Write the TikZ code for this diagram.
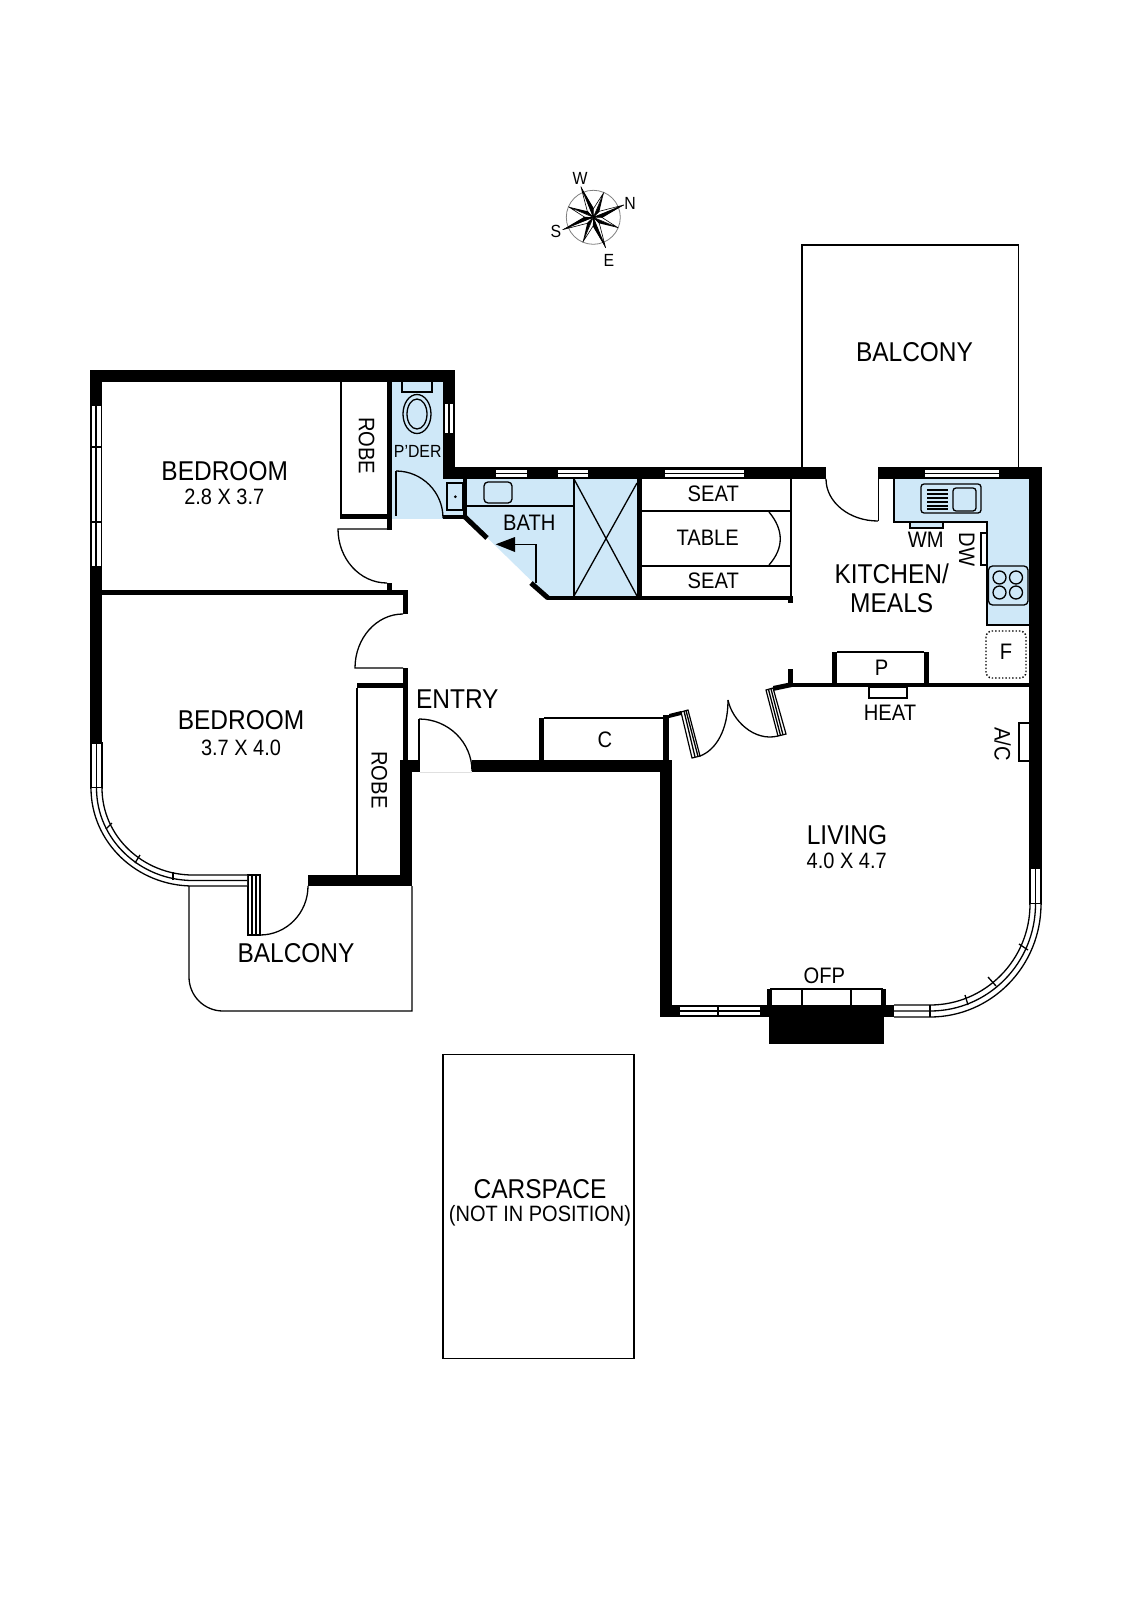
\documentclass[tikz,border=0pt]{standalone}
\usepackage{fontspec}
\setmainfont[FakeStretch=.9]{Liberation Sans}
\definecolor{wetblue}{HTML}{CFE8F8}
\tikzset{
  x=.5pt,y=-.5pt,
  thin line/.style={line width=.65pt},
  wall/.style={fill=black,draw=none},
  wet/.style={fill=wetblue,draw=none},
  winbox/.style={fill=white,draw=black,line width=.6pt},
  room/.style={font=\fontsize{13.6}{13.6}\selectfont,inner sep=0pt},
  size/.style={font=\fontsize{11.1}{11.1}\selectfont,inner sep=0pt},
  small/.style={font=\fontsize{11.2}{11.2}\selectfont,inner sep=0pt},
  tiny/.style={font=\fontsize{8.8}{8.8}\selectfont,inner sep=0pt}
}
\begin{document}
\begin{tikzpicture}
  \useasboundingbox (0,0) rectangle (1132,1600);
  \fill[white] (0,0) rectangle (1132,1600);
  % wet areas
  \fill[wet] (392,382) rectangle (443,519);
  \fill[wet] (443,479) rectangle (466,516);
  \fill[wet] (466,479) -- (637,479) -- (637,596) -- (547,596) -- (465,516) -- cycle;
  \fill[wet] (894,479) -- (1029,479) -- (1029,625) -- (987,625) -- (987,522) -- (894,522) -- cycle;
  % outer walls
  \fill[wall] (90,370) rectangle (455,382);
  \fill[wall] (90,370) rectangle (102,743);
  \fill[wall] (443,370) rectangle (455,479);
  \fill[wall] (443,467) rectangle (826,479);
  \fill[wall] (878,467) rectangle (1042,479);
  \fill[wall] (1029,467) rectangle (1042,868);
  \fill[wall] (660,760) rectangle (672,1017);
  \fill[wall] (660,1005) rectangle (680,1017);
  \fill[wall] (760,1005) rectangle (894,1017);
  \fill[wall] (769,1005) rectangle (884,1044);
  \fill[wall] (767,989) rectangle (772,1005);
  \fill[wall] (881,989) rectangle (886,1005);
  \fill[wall] (472,760) rectangle (672,772);
  \fill[wall] (400,760) rectangle (420,772);
  \fill[wall] (400,760) rectangle (412,886);
  \fill[wall] (308,875) rectangle (412,886);
  % inner walls
  \fill[wall] (387,382) rectangle (392,530);
  \fill[wall] (340,514) rectangle (392,519);
  \fill[wall] (102,590) rectangle (408,595);
  \fill[wall] (387,583) rectangle (392,590);
  \fill[wall] (403,590) rectangle (408,614);
  \fill[wall] (403,668) rectangle (408,760);
  \fill[wall] (357,683) rectangle (403,688);
  \fill[wall] (443,515) rectangle (467,519);
  \fill[wall] (463,479) rectangle (467,519);
  \fill[wall] (637,479) rectangle (642,600);
  \fill[wall] (547,596) rectangle (793,600);
  \fill[wall] (788,598) rectangle (793,603);
  \fill[wall] (539,718) rectangle (544,760);
  \fill[wall] (663,715) rectangle (669,760);
  \fill[wall] (793,683) rectangle (1029,687);
  \fill[wall] (788,669) rectangle (793,687);
  \fill[wall] (832,652) rectangle (837,683);
  \fill[wall] (924,652) rectangle (929,683);
  \fill[wall] (669,714) -- (681,711) -- (681,715) -- (669,718) -- cycle;
  \fill[wall] (773,686) -- (792,682) -- (792,687) -- (773,691) -- cycle;
  \draw[line width=2.5pt] (465,517) -- (487,538);
  \draw[line width=2.5pt] (531,583) -- (548,598);
  % thin lines
  \draw[thin line] (341,382) -- (341,514);
  \draw[thin line] (357,688) -- (357,875);
  \draw[thin line] (544,718) -- (663,718);
  \draw[thin line] (837,652) -- (924,652);
  \draw[thin line] (574,479) -- (574,596);
  \draw[thin line] (466,506) -- (574,506);
  \draw[thin line] (574,479) -- (637,596);
  \draw[thin line] (637,483) -- (574,596);
  \draw[thin line] (642,511) -- (791,511);
  \draw[thin line] (642,566) -- (791,566);
  \draw[thin line] (791,479) -- (791,598);
  \draw[thin line] (769,512) .. controls (784,530) and (784,548) .. (769,565);
  \draw[thin line] (894,479) -- (894,522) -- (987,522) -- (987,625) -- (1029,625);
  \draw[thin line] (878.5,479) -- (878.5,521);
  \draw[thin line] (1018.7,467) -- (1018.7,245) -- (802,245) -- (802,467);
  \draw[thin line] (189,886) -- (189,977) arc (180:90:34) -- (412,1011) -- (412,886);
  \draw[thin line] (770,989) -- (883,989);
  \draw[thin line] (802,989) -- (802,1005);
  \draw[thin line] (851,989) -- (851,1005);
  \draw[line width=.5pt,black!12] (420,772) -- (472,772);
  % doors
  \draw[thin line] (387,529) -- (338,529) arc (180:90:49 and 54);
  \draw[thin line] (403,614) arc (270:180:48 and 54) -- (403,668);
  \draw[thin line] (396,471) -- (396,516);
  \draw[thin line] (396,471) arc (270:360:47 and 47);
  \draw[thin line] (419,719) -- (419,760);
  \draw[thin line] (419,719) arc (270:360:53 and 52);
  \draw[thin line] (826,479) arc (180:90:52 and 42);
  \draw[thin line] (260,935) arc (90:0:48 and 49);
  \draw[thin line] (700,756) .. controls (716,750) and (728,730) .. (728,700);
  \draw[thin line] (728,700) .. controls (732,720) and (754,742) .. (778,736);
  \draw[winbox] (681,712) -- (688,710) -- (700,756) -- (692,758) -- cycle;
  \draw[thin line] (684,711) -- (695,757);
  \draw[thin line] (686,710.5) -- (698,756.5);
  \draw[winbox] (766,690) -- (773,688) -- (786,734) -- (778,736) -- cycle;
  \draw[thin line] (768.5,689.5) -- (780.5,735.5);
  \draw[thin line] (771,689) -- (783,735);
  \draw[winbox] (248,875) rectangle (260,935);
  \draw[thin line] (252,875) -- (252,935);
  \draw[thin line] (256,875) -- (256,935);
  % windows
  \draw[winbox] (91,405) rectangle (101.5,567);
  \draw[thin line] (96,405) -- (96,567);
  \draw[thin line] (91,447) -- (101.5,447);
  \draw[thin line] (91,522) -- (101.5,522);
  \draw[winbox] (444,403) rectangle (454,434);
  \draw[thin line] (449,403) -- (449,434);
  \foreach \wa/\wb in {495/528,557/589,664/745,924/1000}{
    \draw[winbox] (\wa,469) rectangle (\wb,478);
    \draw[thin line] (\wa,473.5) -- (\wb,473.5);
  }
  \draw[winbox] (91,743) rectangle (102,788);
  \draw[thin line] (96.5,743) -- (96.5,788);
  \fill[white] (91,788) arc (180:90:102 and 98) -- (247,886) -- (247,875) -- (193,875) arc (90:180:91 and 87) -- cycle;
  \draw[thin line] (91,788) arc (180:90:102 and 98) -- (247,886);
  \draw[thin line] (96.5,788) arc (180:90:96.5 and 92.5) -- (247,880.5);
  \draw[thin line] (102,788) arc (180:90:91 and 87) -- (247,875);
  \draw[thin line] (106,829) -- (112,823);
  \draw[thin line] (135,863) -- (140,855);
  \draw[thin line] (173,880) -- (173,872);
  \draw[winbox] (1030,868) rectangle (1041,904);
  \draw[thin line] (1035.5,868) -- (1035.5,904);
  \fill[white] (1041,904) arc (0:90:111 and 113) -- (894,1017) -- (894,1005) -- (930,1005) arc (90:0:100 and 101) -- cycle;
  \draw[thin line] (1041,904) arc (0:90:111 and 113) -- (894,1017);
  \draw[thin line] (1035.5,904) arc (0:90:105.5 and 107) -- (894,1011);
  \draw[thin line] (1030,904) arc (0:90:100 and 101) -- (894,1005);
  \draw[thin line] (1019,944) -- (1028,950);
  \draw[thin line] (988,977) -- (996,986);
  \draw[thin line] (965,995) -- (968,1005);
  \draw[thin line] (930,1005) -- (930,1017);
  \draw[winbox] (679,1006) rectangle (761,1016);
  \draw[thin line] (679,1011) -- (761,1011);
  \draw[thin line] (718,1006) -- (718,1016);
  % fixtures
  \draw[thin line] (402,382) -- (402,392) -- (432,392) -- (432,382);
  \draw[thin line,fill=wetblue] (417,414) ellipse (14 and 19.5);
  \draw[thin line,fill=wetblue] (417,414) ellipse (10 and 15);
  \draw[thin line] (447,483) rectangle (463,510);
  \fill (455.3,496.7) circle (1.5);
  \draw[thin line,rounded corners=2pt] (484,482) rectangle (512,503);
  \draw[thin line] (536,583) -- (536,544.3) -- (515,544.3);
  \fill (495.7,544.3) -- (515,537) -- (515,552) -- cycle;
  \draw[thin line,rounded corners=1.5pt] (921,484) rectangle (981,513);
  \draw[thin line,rounded corners=1.5pt] (953,488) rectangle (976,511);
  \foreach \ln in {490,494,498,502,506,509}{
    \draw[line width=.6pt] (927,\ln) -- (948,\ln);
  }
  \draw[thin line,fill=wetblue] (910,522) rectangle (943,528);
  \draw[thin line] (987,533) -- (981,533) -- (981,565) -- (987,565);
  \draw[thin line,fill=wetblue,rounded corners=2pt] (988.5,566) rectangle (1028,605);
  \foreach \hx/\hy in {999.5/577.5,1016/577.5,999.5/592.5,1016/592.5}{
    \draw[thin line] (\hx,\hy) circle (6.5);
  }
  \draw[line width=.7pt,densely dotted,rounded corners=3pt] (986,631) rectangle (1026,678);
  \draw[thin line] (869,687) rectangle (907,698);
  \draw[thin line] (1029,723) -- (1019,723) -- (1019,761) -- (1029,761);
  \draw[thin line] (443,1054.5) rectangle (634,1358.5);
  % compass
  \begin{scope}[shift={(593.3,217.3)}]
    \draw[line width=.4pt,gray] (0,0) circle (27);
    \foreach \ang/\rad in {-22/33,68/33,158/33,248/33,23/27,113/27,203/27,293/27}{
      \fill[black] (0,0) -- (\ang:\rad) -- (\ang+25:8) -- cycle;
      \draw[line width=.3pt,fill=white] (0,0) -- (\ang:\rad) -- (\ang-25:8) -- cycle;
    }
    \foreach \ang/\rad in {-22/33,68/33,158/33,248/33}{
      \fill[black] (0,0) -- (\ang:\rad) -- (\ang+25:9) -- cycle;
    }
  \end{scope}
  \node[tiny] (compassw) at (580,178.3) {W};
  \node[tiny] (compassn) at (630,203.3) {N};
  \node[tiny] (compasss) at (556,231) {S};
  \node[tiny] (compasse) at (609,260.7) {E};
  % labels
  \node[room] (bedone) at (224.7,470.7) {BEDROOM};
  \node[size] (bedonesize) at (224.3,497.3) {2.8 X 3.7};
  \node[small,rotate=-90] (robeone) at (366.7,445.7) {ROBE};
  \node[tiny] (pder) at (417.7,451) {P'DER};
  \node[room] (bedtwo) at (241,720) {BEDROOM};
  \node[size] (bedtwosize) at (241,747.7) {3.7 X 4.0};
  \node[small,rotate=-90] (robetwo) at (379.3,780) {ROBE};
  \node[room] (balconylow) at (296,953.3) {BALCONY};
  \node[room] (entry) at (457.3,699) {ENTRY};
  \node[small] (cupboard) at (605,739.3) {C};
  \node[small] (bath) at (529.3,522.3) {BATH};
  \node[small] (seatone) at (713.3,494) {SEAT};
  \node[small] (table) at (707.7,537.3) {TABLE};
  \node[small] (seattwo) at (713.3,580.7) {SEAT};
  \node[room] (kitchen) at (891.7,573.3) {KITCHEN/};
  \node[room] (meals) at (891.7,602.7) {MEALS};
  \node[small] (wm) at (925.7,540) {WM};
  \node[small,rotate=-90] (dw) at (966.7,549.3) {DW};
  \node[small] (fridge) at (1006,651.7) {F};
  \node[small] (pantry) at (881.7,667.3) {P};
  \node[small] (heat) at (890,712.7) {HEAT};
  \node[small,rotate=-90] (ac) at (1002.7,744) {A/C};
  \node[room] (living) at (847,835) {LIVING};
  \node[size] (livingsize) at (846.7,861) {4.0 X 4.7};
  \node[small] (ofp) at (824.3,976) {OFP};
  \node[room] (balconytop) at (914.5,352) {BALCONY};
  \node[room] (carspace) at (540,1189) {CARSPACE};
  \node[size] (notpos) at (540,1215.6) {(NOT IN POSITION)};
\end{tikzpicture}
\end{document}
